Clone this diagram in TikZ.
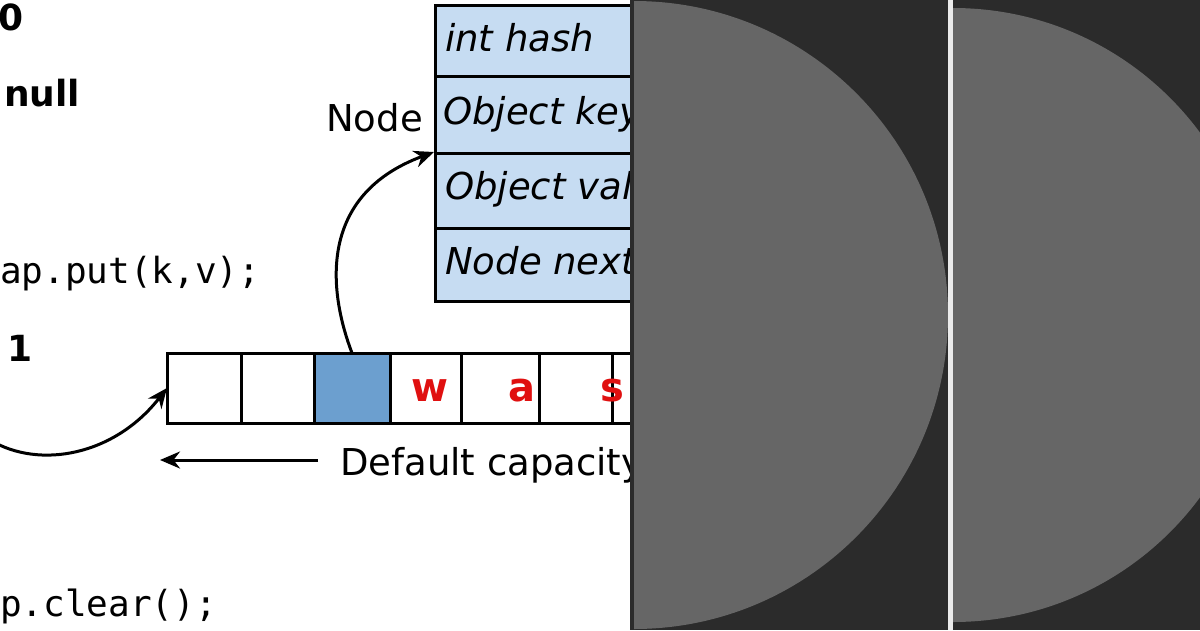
\documentclass[tikz,border=0pt]{standalone}
\usepackage{fontspec}
\setmainfont{DejaVu Sans}
\setmonofont{DejaVu Sans Mono}
\usetikzlibrary{arrows.meta}
\definecolor{nodeblue}{HTML}{C6DCF2}
\definecolor{cellblue}{HTML}{6C9FCF}
\definecolor{redtxt}{HTML}{E01010}
\definecolor{darkbg}{HTML}{2B2B2B}
\definecolor{circ}{HTML}{666666}
\begin{document}
\begin{tikzpicture}[x=1pt,y=-1pt,
  lbl/.style={font=\fontsize{37}{39}\selectfont,inner sep=0,anchor=base west},
  bold/.style={lbl,font=\fontsize{36}{38}\selectfont\bfseries},
  mono/.style={lbl,font=\fontsize{36}{38}\selectfont\ttfamily},
  field/.style={lbl,font=\fontsize{37}{39}\selectfont\itshape},
  box/.style={draw,line width=3pt,fill=nodeblue,minimum width=260pt,anchor=north west,inner sep=0},
  cell/.style={draw=black,line width=3pt,minimum height=70pt,inner sep=0,outer sep=0,anchor=north west},
  letter/.style={text=redtxt,font=\fontsize{40}{42}\selectfont\bfseries},
  arr/.style={line width=3pt,-{Stealth[length=20pt,width=17pt]}}]
\useasboundingbox (0,0) rectangle (1200,630);
\fill[white] (0,0) rectangle (630,630);
\begin{scope}
\clip (0,0) rectangle (630,630);
\node[bold] (zero) at (-2,30) {0};
\node[bold] (null) at (4,106) {null};
\node[mono] (put) at (0,283) {ap.put(k,v);};
\node[bold] (one) at (7,361) {1};
\node[mono] (clear) at (0,616) {p.clear();};
\node[box,minimum height=71pt] (f1) at (434,4) {};
\node[box,minimum height=77pt] (f2) at (434,75) {};
\node[box,minimum height=75pt] (f3) at (434,152) {};
\node[box,minimum height=73pt] (f4) at (434,227) {};
\node[field] (t1) at (445,51) {int hash};
\node[field] (t2) at (443,124) {Object key};
\node[field] (t3) at (445,199) {Object value};
\node[field] (t4) at (445,274) {Node next};
\node[lbl] (nodelbl) at (326,131) {Node};
\node[cell,minimum width=74pt] (c1) at (167,353) {};
\node[cell,minimum width=73pt] (c2) at (241,353) {};
\node[cell,minimum width=76pt,fill=cellblue] (c3) at (314,353) {};
\node[cell,minimum width=71pt] (c4) at (390,353) {};
\node[cell,minimum width=78pt] (c5) at (461,353) {};
\node[cell,minimum width=73pt] (c6) at (539,353) {};
\node[cell,minimum width=74pt] (c7) at (612,353) {};
\node[letter] at (430,391) {w};
\node[letter] at (522,391) {a};
\node[letter] at (612,391) {s};
\coordinate (lstart) at (-10,440);
\coordinate (astart) at (318,460);
\coordinate (aend) at (160,460);
\draw[arr] (lstart) .. controls (40,470) and (115,455) .. (c1.west);
\draw[arr] (c3.north) .. controls (328,290) and (318,195) .. (f3.north west);
\draw[arr] (astart) -- (aend);
\node[lbl] (cap) at (340,475) {Default capacity};
\end{scope}
\fill[darkbg] (630,0) rectangle (1200,630);
\begin{scope}
\clip (634,0) rectangle (948,630);
\fill[circ] (634,315) circle (314);
\end{scope}
\begin{scope}
\clip (953,0) rectangle (1200,630);
\fill[circ] (953,315) circle (307);
\end{scope}
\fill[white!92!black] (948,0) rectangle (953,630);
\end{tikzpicture}
\end{document}
